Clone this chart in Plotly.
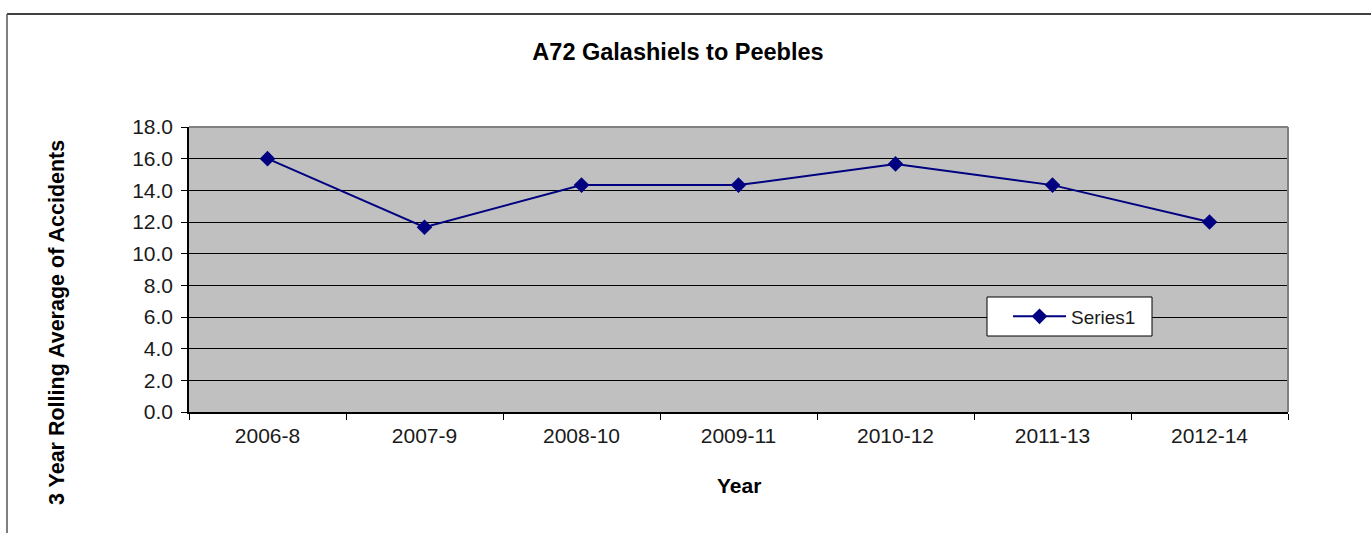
import plotly.graph_objects as go

categories = ["2006-8", "2007-9", "2008-10", "2009-11", "2010-12", "2011-13", "2012-14"]
values = [16.0, 11.67, 14.33, 14.33, 15.67, 14.33, 12.0]
series_name = "Series1"
y_ticks = [0, 2, 4, 6, 8, 10, 12, 14, 16, 18]

W, H = 1371, 533
L, R, T, B = 189, 83, 127, 121
pw, ph = W - L - R, H - T - B

def px_x(x):
    return (x - L) / pw

def px_y(y):
    return 1 - (y - T) / ph

FONT = "Liberation Sans, Arial, sans-serif"

fig = go.Figure()
fig.add_trace(go.Scatter(
    x=categories, y=values, name=series_name, mode="lines+markers",
    line=dict(color="#000080", width=2),
    marker=dict(symbol="diamond", size=12, color="#000080"),
    showlegend=True,
))

fig.update_layout(
    width=W, height=H,
    margin=dict(l=L, r=R, t=T, b=B),
    paper_bgcolor="white",
    plot_bgcolor="#c0c0c0",
    font=dict(family=FONT, size=21, color="#1a1a1a"),
    title=dict(text="<b>A72 Galashiels to Peebles</b>", x=678 / W, xref="container",
               y=1 - 52 / H, yref="container", xanchor="center", yanchor="middle",
               font=dict(size=23.5, family=FONT, color="black")),
    xaxis=dict(
        type="category", tickson="boundaries", ticks="outside", ticklen=6,
        tickcolor="black", tickwidth=1, showline=True, linecolor="black", linewidth=1.5,
        showgrid=False, range=[-0.5, 6.5], ticklabelstandoff=4,
        tickfont=dict(size=21, family=FONT),
        mirror=False,
    ),
    yaxis=dict(
        range=[0, 18], tickvals=y_ticks, tickformat=".1f", ticks="outside", ticklen=6,
        tickcolor="black", showline=True, linecolor="black", linewidth=1.5,
        showgrid=True, gridcolor="black", gridwidth=1, zeroline=False,
        ticklabelstandoff=4,
        tickfont=dict(size=21, family=FONT),
    ),
    legend=dict(
        x=px_x(1008), y=px_y(316.5), xanchor="left", yanchor="middle",
        bgcolor="rgba(0,0,0,0)", borderwidth=0,
        font=dict(size=19, family=FONT), itemwidth=53,
    ),
    annotations=[
        dict(text="<b>Year</b>", xref="paper", yref="paper", x=px_x(739), y=px_y(485),
             xanchor="center", yanchor="middle", showarrow=False,
             font=dict(size=21, family=FONT, color="black")),
        dict(text="<b>3 Year Rolling Average of Accidents</b>", xref="paper", yref="paper",
             x=px_x(57), y=px_y(323), xanchor="center", yanchor="middle", textangle=-90,
             showarrow=False, font=dict(size=21.5, family=FONT, color="black")),
    ],
    shapes=[
        # legend box
        dict(type="rect", xref="paper", yref="paper", x0=px_x(987), x1=px_x(1152),
             y0=px_y(336), y1=px_y(297), fillcolor="white",
             line=dict(color="black", width=1), layer="above"),
        # plot area top/right gray border
        dict(type="line", xref="paper", yref="paper", x0=0, x1=1, y0=1, y1=1,
             line=dict(color="#808080", width=2)),
        dict(type="line", xref="paper", yref="paper", x0=1, x1=1, y0=0, y1=1,
             line=dict(color="#808080", width=2)),
        # outer chart border
        dict(type="line", xref="paper", yref="paper", x0=px_x(7), x1=px_x(1375),
             y0=px_y(14), y1=px_y(14), line=dict(color="black", width=1.5)),
        dict(type="line", xref="paper", yref="paper", x0=px_x(7), x1=px_x(7),
             y0=px_y(14), y1=px_y(540), line=dict(color="#555555", width=1.5)),
    ],
)

fig.write_html("out.html")
